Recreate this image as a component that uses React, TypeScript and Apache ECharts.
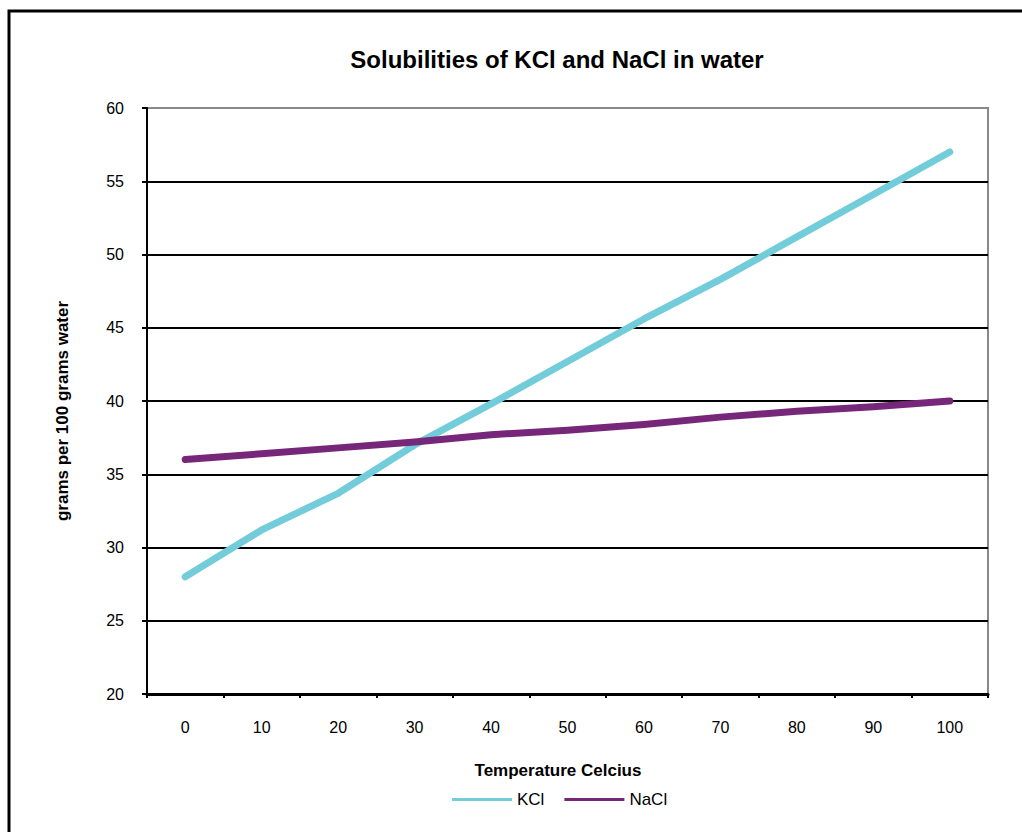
import React, { useEffect, useRef } from "react";
import * as echarts from "echarts";

const categories = ["0", "10", "20", "30", "40", "50", "60", "70", "80", "90", "100"];
const kclValues = [28.0, 31.2, 33.7, 37.0, 39.8, 42.7, 45.6, 48.3, 51.2, 54.1, 57.0];
const naclValues = [36.0, 36.4, 36.8, 37.2, 37.7, 38.0, 38.4, 38.9, 39.3, 39.6, 40.0];
const seriesNames = ["KCl", "NaCl"];
const titleText = "Solubilities of KCl and NaCl in water";
const xAxisName = "Temperature Celcius";
const yAxisName = "grams per 100 grams water";

const FONT = "'Liberation Sans', Arial, sans-serif";

export default function App() {
  const ref = useRef<HTMLDivElement>(null);
  useEffect(() => {
    if (!ref.current) return;
    const chart = echarts.init(ref.current, undefined, { renderer: "svg" });
    chart.setOption({
      animation: false,
      backgroundColor: "#ffffff",
      textStyle: { fontFamily: FONT },
      title: {
        text: titleText,
        left: 552,
        textAlign: "center",
        top: 42,
        textStyle: { fontSize: 24, fontWeight: "bold", color: "#000", fontFamily: FONT },
      },
      grid: {
        left: 147,
        top: 108,
        right: 34,
        bottom: 138,
        show: true,
        borderColor: "#888888",
        borderWidth: 2,
        backgroundColor: "transparent",
      },
      legend: {
        data: seriesNames,
        left: 452,
        top: 791,
        padding: 0,
        itemWidth: 60,
        itemHeight: 18,
        itemGap: 20,
        icon: "path://M0,7.5 L60,7.5 L60,10.5 L0,10.5 Z",
        textStyle: { fontSize: 17, color: "#000", fontFamily: FONT },
      },
      xAxis: {
        type: "category",
        data: categories,
        boundaryGap: true,
        axisLine: { lineStyle: { color: "#000", width: 3 } },
        axisTick: { show: true, length: 4, lineStyle: { color: "#000", width: 2 } },
        axisLabel: { fontSize: 16, color: "#000", margin: 25, fontFamily: FONT },
        splitLine: { show: false },
      },
      yAxis: {
        type: "value",
        min: 20,
        max: 60,
        interval: 5,
        axisLine: { show: true, lineStyle: { color: "#000", width: 2 } },
        axisTick: { show: true, length: 5, lineStyle: { color: "#000", width: 2 } },
        axisLabel: { fontSize: 16, color: "#000", margin: 23, fontFamily: FONT },
        splitLine: {
          show: true,
          lineStyle: {
            color: ["#000", "#000", "#000", "#000", "#000", "#000", "#000", "#000", "#888"],
            width: 2,
          },
        },
      },
      graphic: [
        {
          type: "rect",
          shape: { x: 9, y: 11, width: 1030, height: 840 },
          style: { fill: "none", stroke: "#000", lineWidth: 3 },
          silent: true,
        },
        {
          type: "text",
          x: 62,
          y: 411,
          rotation: Math.PI / 2,
          style: {
            text: yAxisName,
            font: `bold 17px ${FONT}`,
            fill: "#000",
            textAlign: "center",
            textVerticalAlign: "middle",
          },
        },
        {
          type: "text",
          x: 558,
          y: 770,
          style: {
            text: xAxisName,
            font: `bold 17px ${FONT}`,
            fill: "#000",
            textAlign: "center",
            textVerticalAlign: "middle",
          },
        },
      ],
      series: [
        {
          name: seriesNames[0],
          type: "line",
          data: kclValues,
          symbol: "none",
          itemStyle: { color: "#72CCD9" },
          lineStyle: { color: "#72CCD9", width: 7, cap: "round", join: "round" },
        },
        {
          name: seriesNames[1],
          type: "line",
          data: naclValues,
          symbol: "none",
          itemStyle: { color: "#77277A" },
          lineStyle: { color: "#77277A", width: 7, cap: "round", join: "round" },
        },
      ],
    });
    return () => chart.dispose();
  }, []);
  return (
    <div
      ref={ref}
      style={{ position: "absolute", left: 0, top: 0, width: 1022, height: 832 }}
    />
  );
}
